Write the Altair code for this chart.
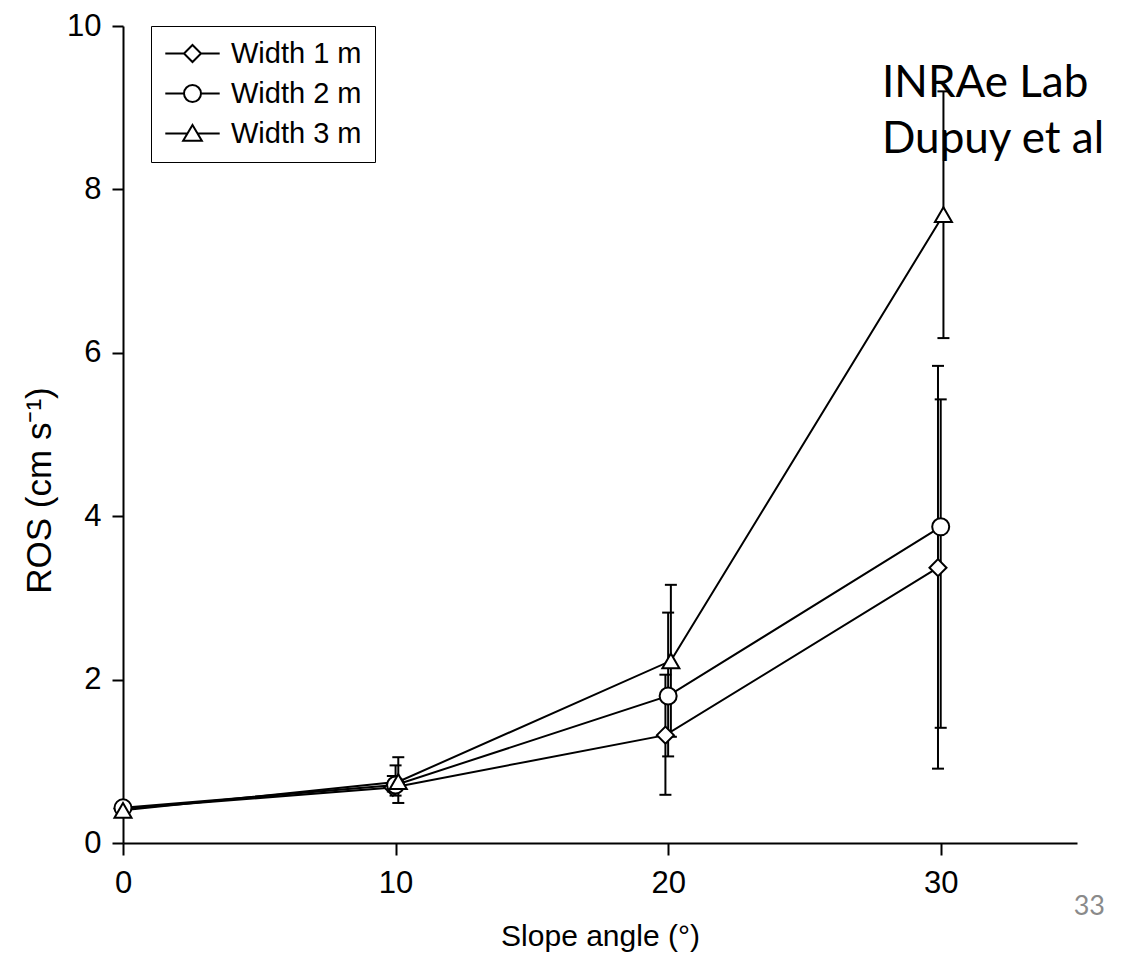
import altair as alt
import pandas as pd

# ---- data ----
series = ["Width 1 m", "Width 2 m", "Width 3 m"]
slope_ticks = [0, 10, 20, 30]
ros_ticks = [0, 2, 4, 6, 8, 10]

# plotted x positions (points are slightly staggered per series in the original)
x_w1 = [0.0, 9.9, 19.9, 29.9]
x_w2 = [0.0, 10.0, 20.0, 30.0]
x_w3 = [0.0, 10.1, 20.1, 30.1]

ros_w1 = [0.42, 0.68, 1.32, 3.37]
ros_w2 = [0.43, 0.71, 1.80, 3.87]
ros_w3 = [0.40, 0.75, 2.23, 7.69]

lo_w1 = [0.37, 0.63, 0.59, 0.91]
hi_w1 = [0.47, 0.82, 2.06, 5.84]
lo_w2 = [0.38, 0.58, 1.06, 1.41]
hi_w2 = [0.48, 0.95, 2.82, 5.43]
lo_w3 = [0.35, 0.49, 1.30, 6.18]
hi_w3 = [0.45, 1.05, 3.16, 9.20]

rows = []
for name, xs, ys, los, his in [
    (series[0], x_w1, ros_w1, lo_w1, hi_w1),
    (series[1], x_w2, ros_w2, lo_w2, hi_w2),
    (series[2], x_w3, ros_w3, lo_w3, hi_w3),
]:
    for xv, yv, lv, hv in zip(xs, ys, los, his):
        rows.append({"series": name, "x": xv, "ros": yv, "lo": lv, "hi": hv})
df = pd.DataFrame(rows)

FONT = "Liberation Sans"

x_scale = alt.Scale(domain=[0, 35], nice=False, zero=False)
y_scale = alt.Scale(domain=[0, 10], nice=False)

x_axis = alt.Axis(values=slope_ticks, grid=False, domainColor="black", domainWidth=2,
                  tickColor="black", tickWidth=2, tickSize=12, labelFont=FONT,
                  labelFontSize=31, labelColor="black", labelPadding=13, labelFlush=False,
                  titleFont=FONT, titleFontSize=30, titleFontWeight="normal",
                  titleColor="black", titlePadding=23)
y_axis = alt.Axis(values=ros_ticks, grid=False, domainColor="black", domainWidth=2,
                  tickColor="black", tickWidth=2, tickSize=11, labelFont=FONT,
                  labelFontSize=31, labelColor="black", labelPadding=11, labelFlush=False,
                  titleFont=FONT, titleFontSize=35, titleFontWeight="normal",
                  titleColor="black", titleX=-66, titleY=464)

X_TITLE = "Slope angle (°)"
Y_TITLE = "ROS (cm s⁻¹)"


def X():
    return alt.X("x:Q", scale=x_scale, axis=x_axis, title=X_TITLE)


def Y(field):
    return alt.Y(f"{field}:Q", scale=y_scale, axis=y_axis, title=Y_TITLE)


base = alt.Chart(df)

lines = base.mark_line(color="black", strokeWidth=2).encode(
    x=X(), y=Y("ros"), detail="series:N", order="x:Q"
)
bars = base.mark_rule(color="black", strokeWidth=2).encode(
    x=X(), y=Y("lo"), y2="hi:Q"
)
caps_lo = base.mark_tick(orient="horizontal", color="black", size=12, thickness=2, opacity=1).encode(
    x=X(), y=Y("lo")
)
caps_hi = base.mark_tick(orient="horizontal", color="black", size=12, thickness=2, opacity=1).encode(
    x=X(), y=Y("hi")
)
points = base.mark_point(filled=True, fill="white", stroke="black", strokeWidth=2,
                         size=290, opacity=1).encode(
    x=X(), y=Y("ros"),
    shape=alt.Shape("series:N",
                    scale=alt.Scale(domain=series, range=["diamond", "circle", "triangle-up"]),
                    legend=None),
)

# legend-only layer: its marks sit below the plot area and are clipped away
legend_paths = [
    "M-3.2,0H-1M1,0H3.2M0,-1L1,0L0,1L-1,0Z",
    "M-3.2,0H-1M1,0H3.2M1,0A1,1 0 1,1 -1,0A1,1 0 1,1 1,0Z",
    "M-3.2,0H-0.6M0.6,0H3.2M0,-1L1.1,0.85L-1.1,0.85Z",
]
legend_layer = base.mark_point(
    filled=False, color="black", strokeWidth=2, opacity=1, clip=True
).encode(
    x=X(),
    y=alt.YDatum(-50, scale=y_scale, axis=y_axis, title=Y_TITLE),
    shape=alt.Shape("series:N",
                    scale=alt.Scale(domain=series, range=legend_paths),
                    legend=alt.Legend(title=None, orient="none", legendX=28, legendY=0,
                                      strokeColor="black", fillColor="white",
                                      padding=13, rowPadding=10, symbolOffset=14,
                                      labelOffset=24, symbolSize=289,
                                      symbolStrokeWidth=2, symbolStrokeColor="black",
                                      labelFont=FONT,
                                      labelFontSize=29, labelColor="black",
                                      labelLimit=400)),
)

note_df = pd.DataFrame({"t": ["INRAe Lab\nDupuy et al"]})
note = alt.Chart(note_df).mark_text(
    align="left", baseline="alphabetic", font="Lato", fontSize=44, color="black",
    lineBreak="\n", lineHeight=56
).encode(text="t:N", x=alt.value(759), y=alt.value(71))

page_df = pd.DataFrame({"t": ["33"]})
page = alt.Chart(page_df).mark_text(
    align="right", baseline="alphabetic", font="Lato", fontSize=27, color="#8a8a8a"
).encode(text="t:N", x=alt.value(982), y=alt.value(889))

chart = alt.layer(lines, bars, caps_lo, caps_hi, points, legend_layer, note, page).resolve_scale(
    shape="independent"
).properties(
    width=954, height=817,
    autosize=alt.AutoSizeParams(type="none"),
    padding={"left": 115, "top": 18, "right": 36, "bottom": 112},
    background="white",
).configure_view(stroke=None)

chart.save("out.html", embed_options={"renderer": "svg", "actions": False})
